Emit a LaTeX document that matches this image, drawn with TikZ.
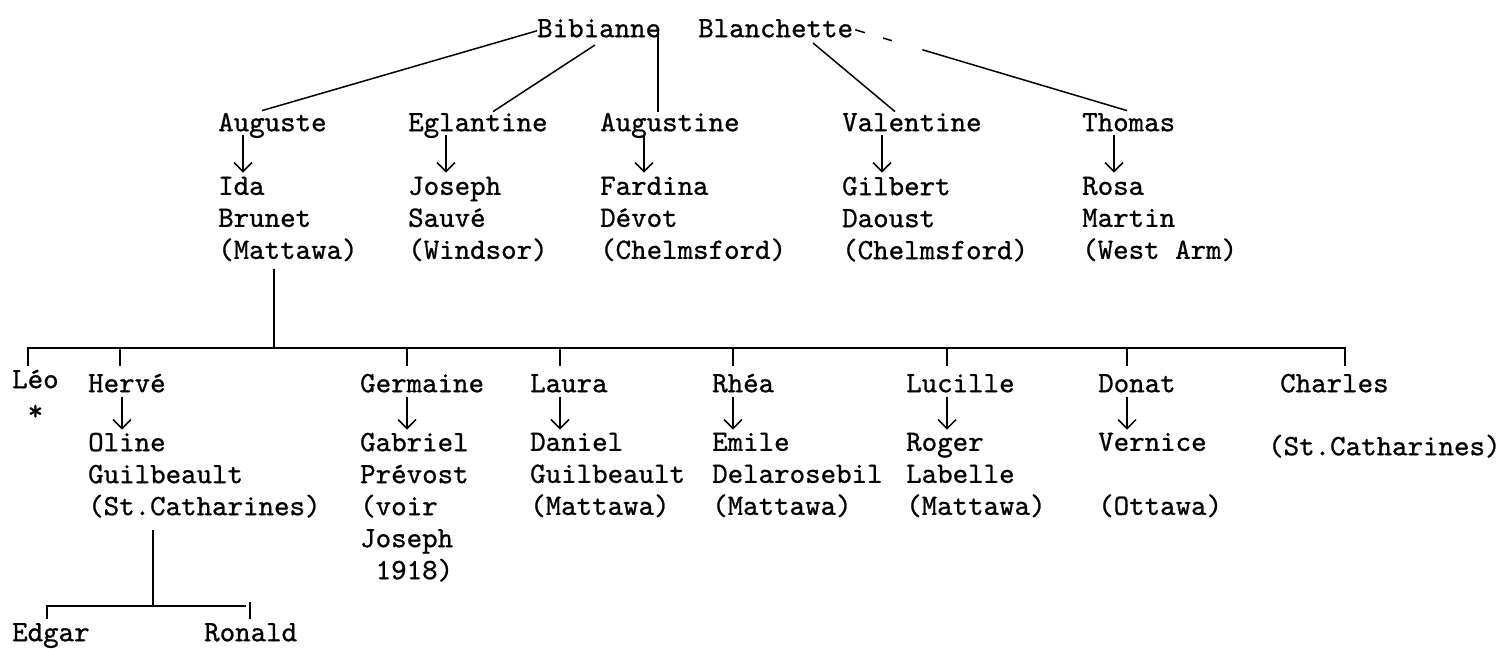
\documentclass[tikz,border=0pt]{standalone}
\usepackage{fontspec}
\usetikzlibrary{arrows.meta,calc}

\newfontfamily\typewriter{lmmono10-regular.otf}[FakeBold=0.8]

\tikzset{
  typed/.style={anchor=north west, inner sep=0pt, align=left,
    font=\typewriter\fontsize{29.5}{32}\selectfont, execute at begin node=\strut},
  wire/.style={line width=1.5pt},
  goes/.style={line width=1.5pt, -{Straight Barb[length=9pt,width=18pt,line width=1.5pt]}},
}

\begin{document}
\begin{tikzpicture}[x=1pt,y=-1pt]
\fill[white] (0,0) rectangle (1506,648);
\useasboundingbox (0,0) rectangle (1506,648);

% parents
\node[typed] (bib) at (537,14.6) {Bibianne};
\node[typed] (bla) at (698,14.6) {Blanchette};

% children and their spouses
\node[typed] (aug) at (218,108.6) {Auguste};
\node[typed] (egl) at (408,108.6) {Eglantine};
\node[typed] (augt) at (600,108.6) {Augustine};
\node[typed] (val) at (842,108.6) {Valentine};
\node[typed] (tho) at (1082,108.6) {Thomas};

\node[typed] (ida) at (218,176.6) {Ida\\Brunet\\(Mattawa)};
\node[typed] (jos) at (408,176.6) {Joseph\\Sauvé\\(Windsor)};
\node[typed] (far) at (600,176.6) {Fardina\\Dévot\\(Chelmsford)};
\node[typed] (gil) at (842,176.6) {Gilbert\\Daoust\\(Chelmsford)};
\node[typed] (ros) at (1082,176.6) {Rosa\\Martin\\(West Arm)};

\draw[wire] (bib.west) -- ($(aug.north west)+(44,2)$);
\draw[wire] ($(bib.south west)+(58,-2)$) -- ($(egl.north west)+(85,3)$);
\draw[wire] ($(bib.north west)+(121,14)$) -- ($(augt.north west)+(58,3)$);
\draw[wire] ($(bla.south west)+(115,-4)$) -- ($(val.north west)+(53,3)$);
\draw[wire, dash pattern=on 10pt off 19pt on 9pt off 32pt on 400pt]
  ($(bla.east)+(2,-1)$) -- ($(tho.north west)+(45,2)$);

\foreach \a/\b/\d in {aug/ida/25, egl/jos/38, augt/far/44, val/gil/40, tho/ros/32}
  \draw[goes] ($(\a.north west)+(\d,26)$) -- ($(\b.north west)+(\d,-4)$);

% grandchildren (Auguste and Ida)
\node[typed] (leo) at (12,369.6) {Léo\\\hphantom{L}*};
\node[typed] (her) at (88,369.6) {Hervé};
\node[typed] (ger) at (360,369.6) {Germaine};
\node[typed] (lau) at (530,369.6) {Laura};
\node[typed] (rhe) at (712,369.6) {Rhéa};
\node[typed] (luc) at (906,369.6) {Lucille};
\node[typed] (don) at (1098,369.6) {Donat};
\node[typed] (cha) at (1280,369.6) {Charles};

\node[typed] (oli) at (88,432.6) {Oline\\Guilbeault\\(St.Catharines)};
\node[typed] (gab) at (360,432.6) {Gabriel\\Prévost\\(voir\\Joseph\\\hphantom{(}1918)};
\node[typed] (dan) at (530,432.6) {Daniel\\Guilbeault\\(Mattawa)};
\node[typed] (emi) at (712,432.6) {Emile\\Delarosebil\\(Mattawa)};
\node[typed] (rog) at (906,432.6) {Roger\\Labelle\\(Mattawa)};
\node[typed] (ver) at (1098,432.6) {Vernice\\[32pt](Ottawa)};
\node[typed] (chaloc) at (1268,432.6) {(St.Catharines)};

\coordinate (famtop) at (274,348);
\draw[wire] ($(ida.north west)+(56,92)$) -- (famtop);
\draw[wire] ($(leo.north west)+(16,-3.6)$) -- ++(0,-18) -- ($(cha.north west)+(65,-21.6)$) -- ++(0,18);
\foreach \c/\d in {her/32, ger/47, lau/30, rhe/21, luc/41, don/29}
  \draw[wire] ($(\c.north west)+(\d,-21.6)$) -- ++(0,18);

\foreach \a/\b/\d in {her/oli/34, ger/gab/47, lau/dan/30, rhe/emi/21, luc/rog/41, don/ver/29}
  \draw[goes] ($(\a.north west)+(\d,27)$) -- ($(\b.north west)+(\d,-3)$);

% great-grandchildren (Hervé and Oline)
\node[typed] (edg) at (12,618.6) {Edgar};
\node[typed] (ron) at (204,618.6) {Ronald};

\coordinate (kidtop) at (153,606);
\draw[wire] ($(oli.north west)+(65,97)$) -- (kidtop);
\draw[wire] ($(edg.north west)+(35,0)$) -- ++(0,-12.6) -- ($(ron.north west)+(42,-12.6)$);
\draw[wire] ($(ron.north west)+(46,-17)$) -- ++(0,17);
\end{tikzpicture}
\end{document}
